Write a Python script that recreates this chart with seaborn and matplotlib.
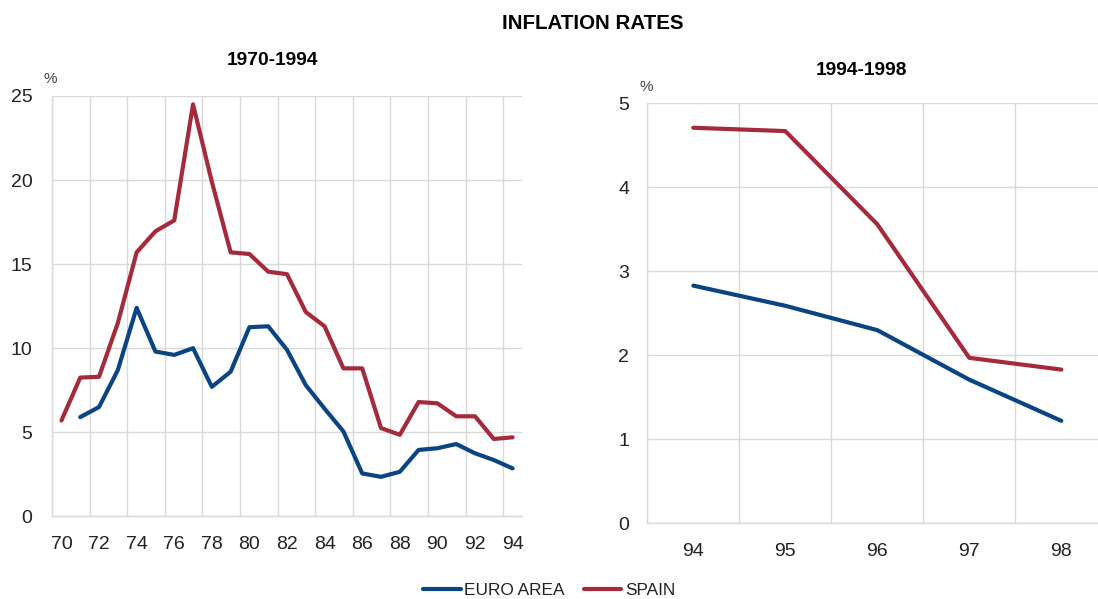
import numpy as np
import pandas as pd
import matplotlib
matplotlib.use("Agg")
import matplotlib.pyplot as plt
import seaborn as sns

# Data
years_long = list(range(1970, 1995))
euro_long = [np.nan, 5.9, 6.5, 8.7, 12.4, 9.8, 9.6, 10.0, 7.7, 8.6, 11.25, 11.3,
             9.9, 7.8, 6.4, 5.05, 2.55, 2.35, 2.65, 3.95, 4.05, 4.3, 3.75, 3.35, 2.85]
spain_long = [5.7, 8.25, 8.3, 11.5, 15.7, 16.95, 17.6, 24.5, 19.9, 15.7, 15.6, 14.55,
              14.4, 12.15, 11.3, 8.8, 8.8, 5.25, 4.85, 6.8, 6.72, 5.95, 5.95, 4.6, 4.7]
years_short = [1994, 1995, 1996, 1997, 1998]
euro_short = [2.83, 2.59, 2.30, 1.71, 1.22]
spain_short = [4.71, 4.67, 3.56, 1.97, 1.83]

series_names = ["EURO AREA", "SPAIN"]
palette = {"EURO AREA": "#0b4482", "SPAIN": "#a52a3c"}

df_long = pd.DataFrame({"year": years_long * 2,
                        "value": euro_long + spain_long,
                        "series": ["EURO AREA"] * len(years_long) + ["SPAIN"] * len(years_long)})
df_short = pd.DataFrame({"year": years_short * 2,
                         "value": euro_short + spain_short,
                         "series": ["EURO AREA"] * len(years_short) + ["SPAIN"] * len(years_short)})

sns.set_style("white")
plt.rcParams['font.family'] = ['Liberation Sans', 'DejaVu Sans']

grid_col = "#d9d9d9"
text_col = "#222222"

fig = plt.figure(figsize=(10.98, 5.99), dpi=100)
ax1 = fig.add_axes([0.0474, 0.138, 0.428, 0.7018])
ax2 = fig.add_axes([0.5895, 0.1264, 0.419, 0.701])

for ax, df, lo, hi, ymax, labels_every in [(ax1, df_long, 1970, 1994, 25, 2),
                                            (ax2, df_short, 1994, 1998, 5, 1)]:
    sns.lineplot(data=df, x="year", y="value", hue="series", hue_order=series_names,
                 palette=palette, linewidth=3.0, ax=ax, legend=False)
    ax.set_xlim(lo - 0.5, hi + 0.5)
    ax.set_ylim(0, ymax)
    ax.set_xticks(list(range(lo, hi + 1, labels_every)))
    ax.set_xticklabels([str(y)[2:] for y in range(lo, hi + 1, labels_every)])
    ax.set_xticks([lo - 0.5 + k * labels_every for k in range(0, (hi - lo + 1) // labels_every + 1)],
                  minor=True)
    ax.grid(True, which="minor", axis="x", color=grid_col, linewidth=1)
    ax.grid(True, which="major", axis="y", color=grid_col, linewidth=1)
    ax.grid(False, which="major", axis="x")
    ax.set_axisbelow(True)
    for s in ["top", "right"]:
        ax.spines[s].set_visible(False)
    for s in ["left", "bottom"]:
        ax.spines[s].set_color(grid_col)
        ax.spines[s].set_linewidth(1)
    ax.tick_params(which="both", length=0, labelsize=14, labelcolor=text_col)
    ax.set_xlabel("")
    ax.set_ylabel("")

ax1.tick_params(axis="y", pad=14)
ax1.tick_params(axis="x", pad=14)
ax2.tick_params(axis="y", pad=13)
ax2.tick_params(axis="x", pad=14)
ax1.set_yticks([0, 5, 10, 15, 20, 25])
ax2.set_yticks([0, 1, 2, 3, 4, 5])

fig.text(0.54, 0.96, "INFLATION RATES", ha="center", va="center",
         fontsize=14.8, fontweight="bold", color="black")
fig.text(0.248, 0.899, "1970-1994", ha="center", va="center",
         fontsize=13.8, fontweight="bold", color="black")
fig.text(0.785, 0.883, "1994-1998", ha="center", va="center",
         fontsize=13.8, fontweight="bold", color="black")
fig.text(0.046, 0.868, "%", ha="center", va="center", fontsize=11, color="#444444")
fig.text(0.589, 0.855, "%", ha="center", va="center", fontsize=11, color="#444444")

handles = [plt.Line2D([], [], color=palette[n], linewidth=3) for n in series_names]
fig.legend(handles, series_names, loc="center", bbox_to_anchor=(0.5, 0.015),
           ncol=2, frameon=False, fontsize=12.4, handlelength=2.2, handletextpad=0.2,
           columnspacing=1.1, labelcolor=text_col)

fig.savefig("out.png", dpi=100)
